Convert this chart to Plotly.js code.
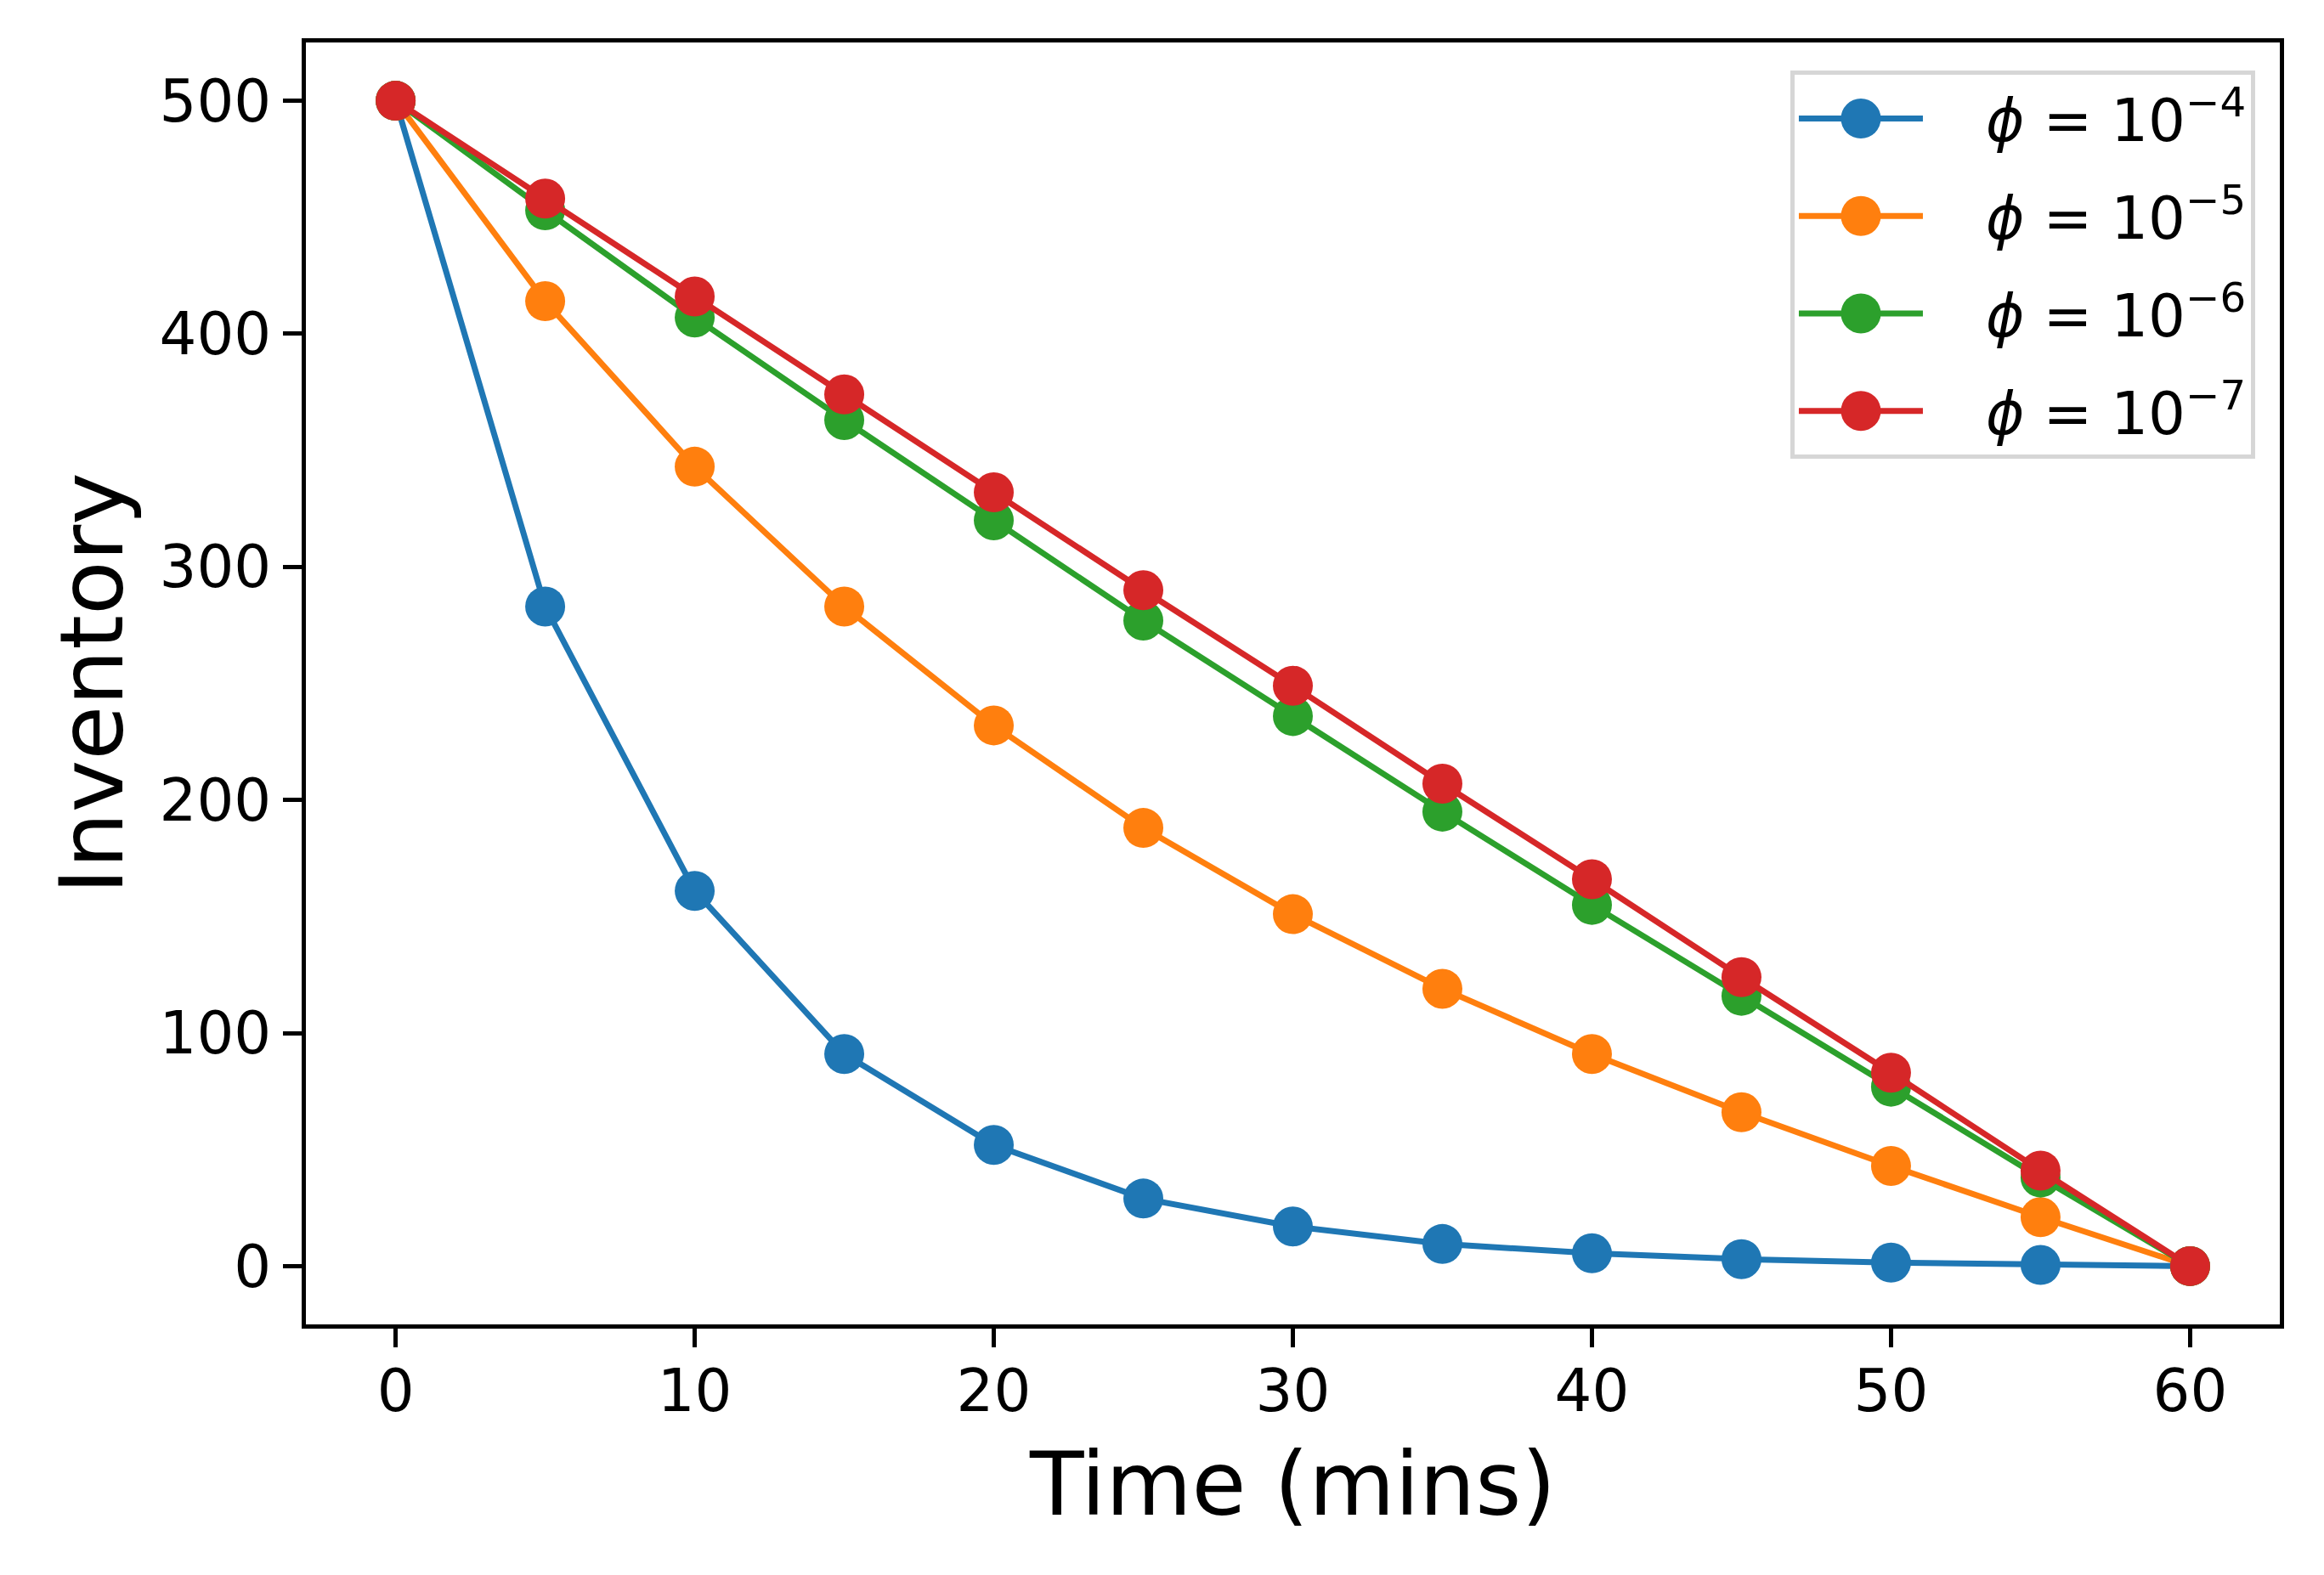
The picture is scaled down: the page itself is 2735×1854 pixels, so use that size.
<!DOCTYPE html>
<html>
<head>
<meta charset="utf-8">
<script src="https://cdn.plot.ly/plotly-3.0.1.min.js"></script>
<style>html,body{margin:0;padding:0;background:#fff;}#chart{width:2735px;height:1854px;}</style>
</head>
<body>
<div id="chart"></div>
<script>
const time = [0, 5, 10, 15, 20, 25, 30, 35, 40, 45, 50, 55, 60];
const phi4 = [500, 283, 161, 91, 52, 29, 17, 9.5, 5.5, 3, 1.5, 0.5, 0];
const phi5 = [500, 414, 343, 283, 232, 188, 151, 119, 91, 66, 43, 21, 0];
const phi6 = [500, 453, 407, 363, 320, 277, 236, 195, 155, 116, 77, 38, 0];
const phi7 = [500, 458, 416, 374, 332, 290, 249, 207, 166, 124, 83, 41, 0];
const labels = ["<i>ϕ</i> = 10<sup>−4</sup>", "<i>ϕ</i> = 10<sup>−5</sup>", "<i>ϕ</i> = 10<sup>−6</sup>", "<i>ϕ</i> = 10<sup>−7</sup>"];
const colors = ["#1f77b4", "#ff7f0e", "#2ca02c", "#d62728"];
const series = [phi4, phi5, phi6, phi7];

const traces = series.map((s, i) => ({
  x: time, y: s, name: "\u2003" + labels[i], type: "scatter", mode: "lines+markers",
  legendgroup: "g" + i,
  line: {color: colors[i], width: 7},
  marker: {color: colors[i], size: 47}
}));

const font = {family: "DejaVu Sans", color: "#000"};
const layout = {
  width: 2735, height: 1854,
  margin: {l: 360, r: 52, t: 50, b: 295},
  paper_bgcolor: "#fff", plot_bgcolor: "#fff",
  font: Object.assign({size: 69}, font),
  showlegend: true,
  xaxis: {
    range: [-3, 63], tickvals: [0, 10, 20, 30, 40, 50, 60],
    showgrid: false, zeroline: false,
    showline: true, mirror: true, linecolor: "#000", linewidth: 5,
    ticks: "outside", ticklen: 22, tickwidth: 5, tickcolor: "#000",
    ticklabelstandoff: -8,
    tickfont: Object.assign({size: 69}, font),
    title: {text: "Time (mins)", font: Object.assign({size: 104}, font), standoff: 36}
  },
  yaxis: {
    range: [-25, 525], tickvals: [0, 100, 200, 300, 400, 500],
    showgrid: false, zeroline: false,
    showline: true, mirror: true, linecolor: "#000", linewidth: 5,
    ticks: "outside", ticklen: 22, tickwidth: 5, tickcolor: "#000",
    tickfont: Object.assign({size: 69}, font),
    title: {text: "Inventory", font: Object.assign({size: 104}, font), standoff: 10}
  },
  legend: {
    x: 0.9875, y: 0.978, xanchor: "right", yanchor: "top",
    bgcolor: "rgba(255,255,255,0.8)", bordercolor: "#d6d6d6", borderwidth: 5,
    font: Object.assign({size: 69}, font),
    itemwidth: 146, tracegroupgap: 22
  }
};
Plotly.newPlot("chart", traces, layout, {displayModeBar: false, staticPlot: true}).then(gd => {
  gd.querySelectorAll(".legend .legendpoints path.scatterpts").forEach(p => {
    const t = p.getAttribute("transform") || "";
    p.setAttribute("transform", t + " scale(2.94)");
  });
});
</script>
</body>
</html>
